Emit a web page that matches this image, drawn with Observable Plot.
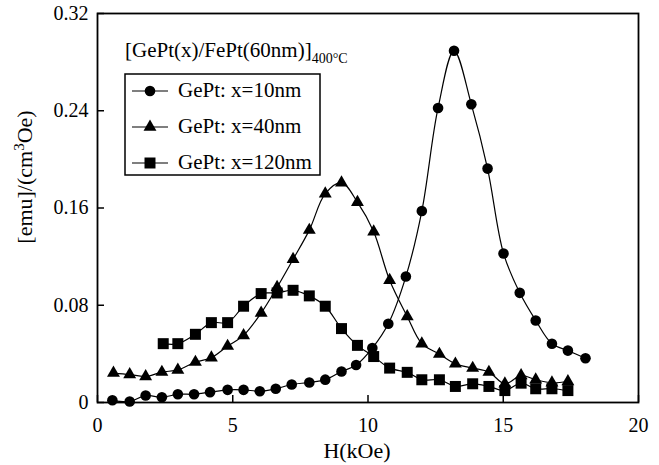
<!DOCTYPE html>
<html><head><meta charset="utf-8">
<script src="https://cdn.jsdelivr.net/npm/d3@7"></script>
<script src="https://cdn.jsdelivr.net/npm/@observablehq/plot@0.6"></script>
<style>body{margin:0;background:#fff} svg{display:block} svg, svg text {font-family: "Liberation Serif", serif !important;}</style>
</head><body><div id="chart"></div>
<script>
// Data
const H10 = [0.55,1.19,1.78,2.38,2.97,3.57,4.16,4.81,5.4,6.0,6.59,7.18,7.83,8.42,9.02,9.56,10.16,10.75,11.4,11.99,12.59,13.18,13.82,14.42,15.01,15.61,16.2,16.8,17.39,18.04];
const V10 = [0.0018,0.0008,0.0058,0.0043,0.0068,0.0068,0.0085,0.0104,0.0104,0.0093,0.0113,0.0148,0.0165,0.0188,0.0255,0.0308,0.0448,0.0648,0.1036,0.1575,0.2423,0.2893,0.2453,0.1924,0.1226,0.0902,0.0675,0.0483,0.0427,0.0364];
const H40 = [0.59,1.19,1.78,2.38,2.97,3.62,4.21,4.81,5.4,6.05,6.64,7.23,7.83,8.42,9.02,9.61,10.21,10.8,11.45,11.99,12.64,13.23,13.87,14.47,15.06,15.66,16.2,16.8,17.39];
const V40 = [0.0242,0.023,0.0214,0.025,0.0268,0.0332,0.0368,0.0464,0.0552,0.0736,0.0948,0.1178,0.1418,0.1718,0.1808,0.1648,0.1404,0.1006,0.0708,0.0484,0.0398,0.0318,0.0283,0.025,0.0154,0.0222,0.0187,0.0162,0.0173];
const H120 = [2.43,2.97,3.62,4.21,4.81,5.4,6.05,6.64,7.23,7.83,8.42,9.02,9.61,10.21,10.8,11.45,11.99,12.64,13.23,13.87,14.47,15.06,15.66,16.2,16.8,17.39];
const V120 = [0.0484,0.0484,0.0561,0.0657,0.0657,0.0792,0.0896,0.0901,0.0923,0.0877,0.0792,0.0608,0.047,0.0378,0.0283,0.0248,0.0187,0.0187,0.0132,0.0154,0.0132,0.0098,0.0159,0.0113,0.0113,0.0098];

const seriesNames = ["GePt: x=10nm", "GePt: x=40nm", "GePt: x=120nm"];
const seriesSymbols = ["circle", "triangle", "square"];
const xTicks = [0, 5, 10, 15, 20];
const yTicks = [0, 0.08, 0.16, 0.24, 0.32];
const xLabel = "H(kOe)";
const yLabelParts = ["[emu]/(cm", "3", "Oe)"];
const titleMain = "[GePt(x)/FePt(60nm)]";
const titleSub = "400°C";

const rows = (h, v, s) => h.map((x, i) => ({h: x, v: v[i], s}));
const series = [rows(H10, V10, seriesNames[0]), rows(H40, V40, seriesNames[1]), rows(H120, V120, seriesNames[2])];
const radii = [5.3, 4.8, 6.2];

const W = 659, Hh = 465, mL = 97, mR = 21, mT = 13, mB = 63;
const plotW = W - mL - mR, plotH = Hh - mT - mB, tickLen = 7;

const font = "Liberation Serif";
const chart = Plot.plot({
  width: W, height: Hh,
  marginLeft: mL, marginRight: mR, marginTop: mT, marginBottom: mB,
  style: {fontFamily: font, fontSize: "20px", background: "#fff", color: "#000"},
  x: {domain: [0, 20]},
  y: {domain: [0, 0.32]},
  marks: [
    Plot.axisX({ticks: xTicks, tickSize: 0, tickPadding: 15, label: null, fontSize: 20, tickFormat: d => String(d)}),
    Plot.axisY({ticks: yTicks, tickSize: 0, tickPadding: 9, label: null, fontSize: 20, tickFormat: d => d === 0 ? "0" : d.toFixed(2)}),
    Plot.tickX(xTicks, {x: d => d, stroke: "#000", strokeWidth: 1.5, insetTop: plotH - tickLen}),
    Plot.tickY(yTicks, {y: d => d, stroke: "#000", strokeWidth: 1.5, insetRight: plotW - tickLen}),
    ...series.map((d) => Plot.line(d, {x: "h", y: "v", stroke: "#000", strokeWidth: 1.2, curve: "catmull-rom"})),
    ...series.map((d, i) => Plot.dot(d, {x: "h", y: "v", symbol: () => seriesSymbols[i], r: radii[i], fill: "#000", stroke: "none"})),
    Plot.frame({stroke: "#000", strokeWidth: 1.8})
  ]
});

const svg = d3.select(chart);
// axis titles
svg.append("text").attr("x", 357).attr("y", 458).attr("text-anchor", "middle")
  .attr("font-family", font).attr("font-size", 22).text(xLabel);
const yl = svg.append("text").attr("transform", "translate(32,177) rotate(-90)").attr("text-anchor", "middle")
  .attr("font-family", font).attr("font-size", 22);
yl.append("tspan").text(yLabelParts[0]);
yl.append("tspan").attr("dy", -8).attr("font-size", 15).text(yLabelParts[1]);
yl.append("tspan").attr("dy", 8).text(yLabelParts[2]);
// title
const t = svg.append("text").attr("x", 125).attr("y", 57).attr("text-anchor", "start")
  .attr("font-family", font).attr("font-size", 21);
t.append("tspan").text(titleMain);
t.append("tspan").attr("dy", 6).attr("font-size", 14).text(titleSub);
// legend
const lg = svg.append("g").attr("text-anchor", "start");
lg.append("rect").attr("x", 125).attr("y", 74).attr("width", 195).attr("height", 101)
  .attr("fill", "#fff").attr("stroke", "#000").attr("stroke-width", 1.5);
const symGen = {circle: d3.symbolCircle, triangle: d3.symbolTriangle, square: d3.symbolSquare};
seriesNames.forEach((name, i) => {
  const y = 91 + i * 36;
  lg.append("line").attr("x1", 132).attr("x2", 168).attr("y1", y).attr("y2", y).attr("stroke", "#000").attr("stroke-width", 1.2);
  lg.append("path").attr("transform", `translate(150,${y})`)
    .attr("d", d3.symbol(symGen[seriesSymbols[i]], Math.PI * radii[i] * radii[i])()).attr("fill", "#000");
  lg.append("text").attr("x", 178).attr("y", y + 6).attr("text-anchor", "start")
    .attr("font-family", font).attr("font-size", 21).text(name);
});

document.getElementById("chart").appendChild(chart);
</script>
</body></html>
